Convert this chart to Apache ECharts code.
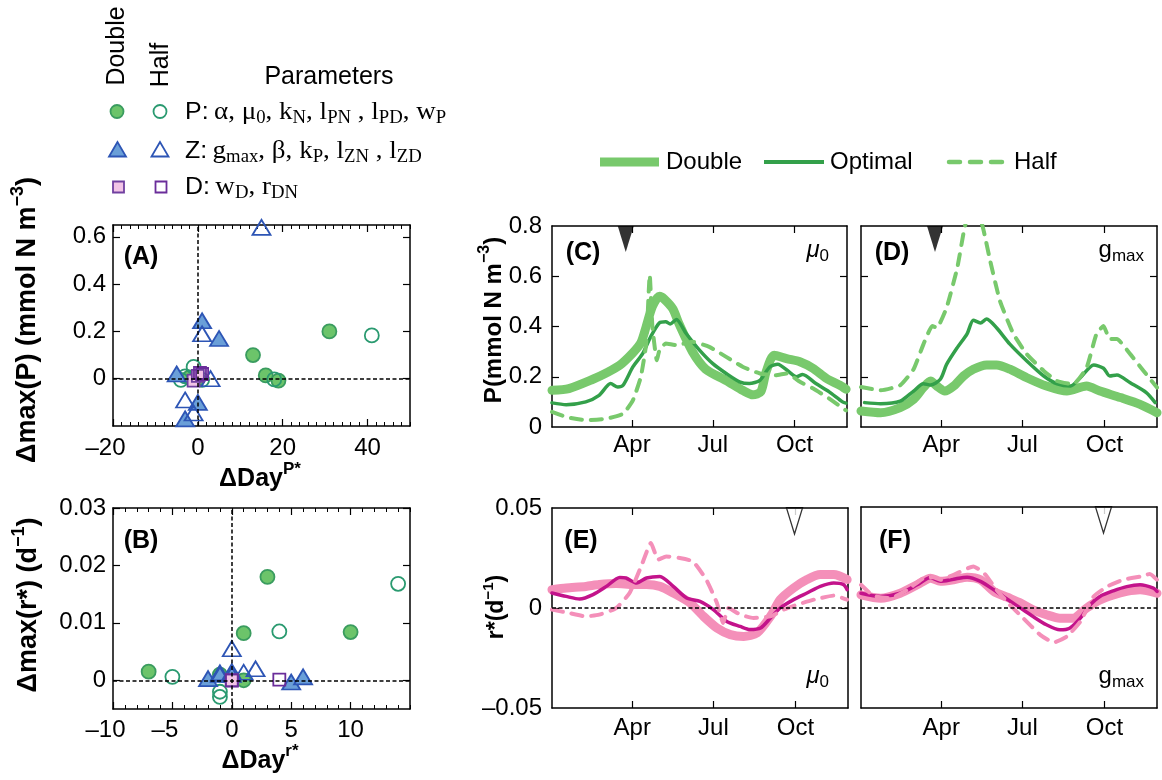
<!DOCTYPE html>
<html>
<head>
<meta charset="utf-8">
<script src="https://cdn.jsdelivr.net/npm/echarts@6/dist/echarts.min.js"></script>
<style>
html,body{margin:0;padding:0;background:#fff}
#chart{width:1162px;height:780px}
</style>
</head>
<body>
<div id="chart"></div>
<script>
// ---------------- data ----------------
// month ticks on the seasonal panels (day of year, Jan 1 = 0)
const dayTicks = [90, 181, 273];
const monthNames = ['Apr', 'Jul', 'Oct'];
const bloomMarkDays = [83];     // filled marker above P panels
const rZeroMarkDays = [272];    // open marker above r* panels

// (A) ΔDay^P* vs Δmax(P)
const pDoubleA = [[13, 0.10], [31, 0.20], [16, 0.014], [19, -0.008], [-2, 0.005], [0, 0.0]];
const pHalfA   = [[41, 0.183], [18, -0.003], [-1, 0.05], [-4, -0.005], [-3, 0.01], [1, -0.005]];
const zDoubleA = [[1, 0.245], [5, 0.17], [-5, 0.02], [0, -0.10], [-3, -0.17]];
const zHalfA   = [[15, 0.64], [1, 0.19], [3, 0.0], [-3, -0.09], [-1, -0.145]];
const dDoubleA = [[-1, -0.008], [0, 0.012]];
const dHalfA   = [[1, 0.02], [0.5, 0.025]];

// (B) ΔDay^r* vs Δmax(r*)
const pDoubleB = [[-7, 0.0015], [3, 0.018], [1, 0.0082], [10, 0.0084], [1, 0.0], [-1, 0.001]];
const pHalfB   = [[14, 0.0168], [4, 0.0085], [-5, 0.0006], [-1, -0.002], [-1, -0.0029], [0, 0.0005]];
const zDoubleB = [[-2, 0.0003], [-1, 0.0013], [0, 0.0015], [5, -0.0003], [6, 0.0006]];
const zHalfB   = [[0, 0.0055], [1, 0.0014], [2, 0.002], [-1, 0.001], [0, 0.001]];
const dDoubleB = [[0, 0.0], [0, 0.0]];
const dHalfB   = [[4, 0.0001], [0, 0.0]];

// (C) P with mu0 perturbed
const pMuDouble = [[0,0.146],[19,0.153],[46,0.19],[61,0.215],[76,0.245],[91,0.295],[100,0.335],[106,0.40],[113,0.48],[121,0.52],[126,0.51],[136,0.47],[143,0.41],[158,0.30],[173,0.23],[196,0.185],[215,0.145],[226,0.128],[235,0.14],[241,0.22],[250,0.286],[264,0.272],[279,0.26],[294,0.233],[309,0.193],[324,0.166],[331,0.15]];
const pMuOptimal = [[0,0.096],[16,0.089],[38,0.10],[53,0.126],[66,0.173],[74,0.159],[80,0.166],[91,0.239],[102,0.292],[111,0.359],[121,0.415],[128,0.419],[133,0.41],[140,0.428],[151,0.372],[166,0.306],[181,0.252],[196,0.213],[211,0.18],[222,0.173],[234,0.186],[245,0.239],[254,0.25],[267,0.219],[275,0.20],[282,0.209],[297,0.173],[312,0.14],[327,0.10],[331,0.095]];
const pMuHalf = [[0,0.06],[16,0.04],[38,0.027],[61,0.033],[80,0.053],[91,0.106],[100,0.20],[106,0.332],[110,0.605],[113,0.40],[118,0.266],[121,0.306],[128,0.332],[140,0.326],[158,0.339],[177,0.319],[196,0.279],[215,0.239],[234,0.213],[252,0.206],[264,0.213],[279,0.18],[294,0.153],[312,0.113],[331,0.066]];

// (D) P with gmax perturbed
const pGDouble = [[0,0.064],[22,0.057],[44,0.077],[59,0.11],[70,0.157],[78,0.183],[85,0.163],[94,0.143],[104,0.163],[115,0.203],[126,0.23],[141,0.247],[152,0.247],[167,0.23],[186,0.196],[208,0.163],[231,0.143],[253,0.163],[268,0.143],[291,0.117],[313,0.09],[332,0.057]];
const pGOptimal = [[4,0.097],[22,0.093],[44,0.103],[59,0.143],[70,0.172],[78,0.167],[89,0.19],[96,0.249],[108,0.316],[119,0.371],[126,0.425],[134,0.414],[141,0.43],[152,0.395],[167,0.33],[186,0.263],[205,0.203],[220,0.172],[235,0.163],[246,0.196],[261,0.247],[272,0.234],[279,0.203],[287,0.207],[302,0.176],[320,0.137],[330,0.097]];
const pGHalf = [[0,0.159],[22,0.146],[44,0.166],[59,0.23],[70,0.329],[80,0.402],[85,0.395],[96,0.475],[108,0.634],[116,0.79],[126,0.92],[137,0.79],[145,0.66],[156,0.50],[171,0.37],[186,0.29],[205,0.223],[220,0.183],[238,0.17],[253,0.236],[264,0.369],[272,0.402],[279,0.35],[287,0.35],[302,0.29],[317,0.223],[332,0.157]];

// (E) r* with mu0 perturbed
const rMuDouble = [[0,0.0092],[16,0.010],[38,0.0108],[53,0.0117],[72,0.0122],[91,0.0117],[106,0.0117],[121,0.0108],[136,0.0075],[155,0.0025],[170,-0.0042],[185,-0.010],[200,-0.0133],[215,-0.0142],[230,-0.0125],[245,-0.0042],[256,0.0042],[271,0.010],[286,0.0142],[301,0.0167],[316,0.0167],[331,0.0142]];
const rMuOptimal = [[0,0.0075],[16,0.0058],[31,0.0045],[46,0.0067],[61,0.0108],[76,0.0153],[83,0.015],[95,0.0125],[106,0.015],[121,0.0158],[136,0.0108],[151,0.005],[166,0.0033],[181,-0.0008],[196,-0.0067],[211,-0.0092],[222,-0.0108],[234,-0.010],[245,-0.005],[256,0.0],[271,0.0042],[286,0.0075],[301,0.0108],[316,0.0125],[327,0.0117],[331,0.0092]];
const rMuHalf = [[0,-0.0008],[19,-0.0025],[38,-0.0042],[53,-0.0033],[72,0.0],[87,0.0075],[100,0.0208],[111,0.0325],[119,0.0242],[128,0.0258],[143,0.025],[158,0.0233],[173,0.0142],[185,0.0025],[192,-0.0075],[198,0.0],[211,-0.0033],[226,-0.005],[245,-0.0042],[260,-0.0008],[275,0.0017],[294,0.0042],[316,0.0062],[331,0.0042]];

// (F) r* with gmax perturbed
const rGDouble = [[0,0.0063],[22,0.0046],[44,0.0071],[63,0.0113],[78,0.0146],[89,0.013],[104,0.0138],[119,0.0151],[134,0.0138],[149,0.008],[164,0.0051],[179,0.0022],[193,-0.0012],[208,-0.0036],[223,-0.0053],[238,-0.0053],[253,-0.0003],[268,0.0038],[283,0.0063],[298,0.008],[313,0.0088],[332,0.0071]];
const rGOptimal = [[0,0.0071],[22,0.0055],[44,0.0071],[63,0.0113],[78,0.0149],[89,0.013],[104,0.0141],[119,0.0151],[134,0.013],[149,0.0088],[164,0.0041],[179,-0.0003],[193,-0.0045],[208,-0.0086],[223,-0.0111],[234,-0.0103],[246,-0.0053],[257,0.0013],[268,0.0055],[283,0.0083],[298,0.0104],[313,0.0113],[328,0.0096],[332,0.008]];
const rGHalf = [[0,0.0113],[14,0.0058],[33,0.0046],[52,0.0088],[70,0.0146],[81,0.0151],[89,0.0138],[104,0.0163],[126,0.0204],[138,0.0171],[152,0.0088],[167,0.0013],[182,-0.0053],[201,-0.0136],[216,-0.0174],[231,-0.0144],[246,-0.007],[261,0.0055],[276,0.0104],[294,0.0138],[313,0.0154],[324,0.0167],[332,0.0138]];

// ---------------- styling ----------------
const SANS = 'Liberation Sans';
const SERIF = 'Liberation Serif';
const GREEN = {dbl: '#78c96c', opt: '#33a04a', half: '#78c96c'};
const PINK  = {dbl: '#f48fb9', opt: '#c3138b', half: '#f48fb9'};

const sym = {
  pD: {symbol: 'circle', size: 14, color: '#6cc46a', border: '#3a9c5f'},
  pH: {symbol: 'circle', size: 14, color: 'rgba(255,255,255,0)', border: '#2a9a70'},
  zD: {symbol: 'triangle', size: [18, 15], color: '#6a9fd8', border: '#2d55b5'},
  zH: {symbol: 'triangle', size: [18, 15], color: 'rgba(255,255,255,0)', border: '#2d55b5'},
  dD: {symbol: 'rect', size: 12, color: '#f2c4e6', border: '#7040a0'},
  dH: {symbol: 'rect', size: 12, color: 'rgba(255,255,255,0)', border: '#6a2d9a'}
};

function fmtNum(v) { return v < 0 ? '\u2013' + String(-v) : String(v); }
// negative x labels get extra right padding so the number sits left of its tick
function fmtNumX(v) { return v < 0 ? '{n|\u2013' + String(-v) + '}' : '{p|' + String(v) + '}'; }
function fmtMonth(v) { const i = dayTicks.indexOf(v); return i >= 0 ? monthNames[i] : ''; }

// ---------------- layout ----------------
const grids = [
  {left: 113, top: 225, width: 297, height: 201}, // A
  {left: 113, top: 508, width: 297, height: 201}, // B
  {left: 552, top: 226, width: 295, height: 201}, // C
  {left: 861, top: 226, width: 296, height: 201}, // D
  {left: 552, top: 508, width: 296, height: 200}, // E
  {left: 861, top: 507, width: 296, height: 201}  // F
].map(g => Object.assign({show: false, containLabel: false, outerBoundsMode: 'none'}, g));

const xAxes = [], yAxes = [];
const labelRich = {
  n: {fontFamily: SANS, fontSize: 24, color: '#000', padding: [0, 15, 0, 0]},
  p: {fontFamily: SANS, fontSize: 24, color: '#000'}
};

// main axis (labels + major ticks), mirrored axis on the opposite side, optional minor-tick axes
function addAxes(list, dim, gi, s) {
  const mainPos = dim === 'x' ? 'bottom' : 'left';
  const mirPos = dim === 'x' ? 'top' : 'right';
  const line = {show: true, onZero: false, lineStyle: {color: '#000', width: 1.5}};
  const tick = s.ticks && s.ticks.length
    ? {show: true, inside: true, length: 7, customValues: s.ticks, lineStyle: {color: '#000', width: 1.2}}
    : {show: false};
  const base = {gridIndex: gi, type: 'value', min: s.min, max: s.max, splitLine: {show: false}, axisLine: line, axisTick: tick};
  const idx = list.length;
  list.push(Object.assign({}, base, {
    position: mainPos,
    axisLabel: s.labels ? {
      show: true, customValues: s.labels, formatter: s.fmt || fmtNum, rich: labelRich,
      color: '#000', fontFamily: SANS, fontSize: 24, margin: s.margin
    } : {show: false}
  }));
  list.push(Object.assign({}, base, {position: mirPos, axisLabel: {show: false}}));
  if (s.minor) {
    [mainPos, mirPos].forEach(p => list.push({
      gridIndex: gi, type: 'value', min: s.min, max: s.max, interval: s.minor, position: p,
      splitLine: {show: false}, axisLine: {show: false, onZero: false},
      axisTick: {show: true, inside: true, length: 4, lineStyle: {color: '#000', width: 1}},
      axisLabel: {show: false}
    }));
  }
  return idx;
}

const ax = [];
// A
ax.push([addAxes(xAxes, 'x', 0, {min: -20, max: 50, ticks: [-20, 0, 20, 40], labels: [-20, 0, 20, 40], fmt: fmtNumX, minor: 2, margin: 10}),
         addAxes(yAxes, 'y', 0, {min: -0.2, max: 0.65, ticks: [0, 0.2, 0.4, 0.6], labels: [0, 0.2, 0.4, 0.6], margin: 7})]);
// B
ax.push([addAxes(xAxes, 'x', 1, {min: -10, max: 15, ticks: [-10, -5, 0, 5, 10], labels: [-10, -5, 0, 5, 10], fmt: fmtNumX, minor: 1, margin: 9}),
         addAxes(yAxes, 'y', 1, {min: -0.005, max: 0.03, ticks: [0, 0.01, 0.02, 0.03], labels: [0, 0.01, 0.02, 0.03], margin: 7})]);
// C
ax.push([addAxes(xAxes, 'x', 2, {min: 0, max: 332, ticks: dayTicks, labels: dayTicks, fmt: fmtMonth, margin: 6}),
         addAxes(yAxes, 'y', 2, {min: 0, max: 0.8, ticks: [0.2, 0.4, 0.6], labels: [0, 0.2, 0.4, 0.6, 0.8], margin: 10})]);
// D
ax.push([addAxes(xAxes, 'x', 3, {min: 0, max: 332, ticks: dayTicks, labels: dayTicks, fmt: fmtMonth, margin: 6}),
         addAxes(yAxes, 'y', 3, {min: 0, max: 0.8, ticks: [0.2, 0.4, 0.6], labels: null})]);
// E
ax.push([addAxes(xAxes, 'x', 4, {min: 0, max: 332, ticks: dayTicks, labels: dayTicks, fmt: fmtMonth, margin: 8}),
         addAxes(yAxes, 'y', 4, {min: -0.05, max: 0.05, ticks: [0], labels: [-0.05, 0, 0.05], margin: 10})]);
// F
ax.push([addAxes(xAxes, 'x', 5, {min: 0, max: 332, ticks: dayTicks, labels: dayTicks, fmt: fmtMonth, margin: 8}),
         addAxes(yAxes, 'y', 5, {min: -0.05, max: 0.05, ticks: [], labels: null})]);

// ---------------- series ----------------
const series = [];

function zeroLines(p, lines, z) {
  series.push({
    type: 'line', xAxisIndex: ax[p][0], yAxisIndex: ax[p][1], data: [], z: z, silent: true,
    markLine: {
      silent: true, symbol: ['none', 'none'], animation: false, label: {show: false},
      lineStyle: {color: '#000', type: [4, 2.5], width: 1.5},
      emphasis: {disabled: true},
      data: lines
    }
  });
}

function scatter(p, data, s) {
  series.push({
    type: 'scatter', xAxisIndex: ax[p][0], yAxisIndex: ax[p][1], data: data, z: 3, clip: false, silent: true,
    symbol: s.symbol, symbolSize: s.size,
    itemStyle: {color: s.color, borderColor: s.border, borderWidth: 1.8, opacity: 1}
  });
}

function seasonal(p, dbl, opt, half, pal) {
  const common = {type: 'line', xAxisIndex: ax[p][0], yAxisIndex: ax[p][1], showSymbol: false, silent: true, smooth: 0.25};
  series.push(Object.assign({}, common, {data: dbl, z: 2, lineStyle: {color: pal.dbl, width: 9, cap: 'round', join: 'round'}}));
  series.push(Object.assign({}, common, {data: opt, z: 3, lineStyle: {color: pal.opt, width: 3.5, cap: 'round', join: 'round'}}));
  series.push(Object.assign({}, common, {data: half, z: 4, smooth: 0.15, lineStyle: {color: pal.half, width: 4, type: [11, 9], cap: 'round', join: 'round'}}));
}

function dayMarker(p, days, yTop, filled) {
  series.push({
    type: 'scatter', xAxisIndex: ax[p][0], yAxisIndex: ax[p][1], z: 6, clip: false, silent: true,
    data: days.map(d => [d, yTop]),
    symbol: 'triangle', symbolRotate: 180, symbolSize: [16, 26], symbolOffset: [0, 13],
    itemStyle: filled ? {color: '#000'} : {color: '#fff', borderColor: '#000', borderWidth: 1.5}
  });
}

// A
zeroLines(0, [{xAxis: 0}, {yAxis: 0}], 1);
scatter(0, pDoubleA, sym.pD); scatter(0, pHalfA, sym.pH);
scatter(0, zDoubleA, sym.zD); scatter(0, zHalfA, sym.zH);
scatter(0, dDoubleA, sym.dD); scatter(0, dHalfA, sym.dH);
// B
zeroLines(1, [{xAxis: 0}, {yAxis: 0}], 1);
scatter(1, pDoubleB, sym.pD); scatter(1, pHalfB, sym.pH);
scatter(1, zDoubleB, sym.zD); scatter(1, zHalfB, sym.zH);
scatter(1, dDoubleB, sym.dD); scatter(1, dHalfB, sym.dH);
// C, D
seasonal(2, pMuDouble, pMuOptimal, pMuHalf, GREEN);
seasonal(3, pGDouble, pGOptimal, pGHalf, GREEN);
dayMarker(2, bloomMarkDays, 0.8, true);
dayMarker(3, bloomMarkDays, 0.8, true);
// E, F
seasonal(4, rMuDouble, rMuOptimal, rMuHalf, PINK);
seasonal(5, rGDouble, rGOptimal, rGHalf, PINK);
zeroLines(4, [{yAxis: 0}], 5);
zeroLines(5, [{yAxis: 0}], 5);
dayMarker(4, rZeroMarkDays, 0.05, false);
dayMarker(5, rZeroMarkDays, 0.05, false);

// ---------------- text & legends ----------------
const T = (x, y, text, rich, extra) => Object.assign({
  type: 'text', x: x, y: y, silent: true,
  style: {text: text, rich: rich, fill: '#000', align: 'center', verticalAlign: 'middle', textAlign: 'center', textVerticalAlign: 'middle'}
}, extra || {});

function boldStyle(size, supSize, raise) {
  return {
    b: {fontFamily: SANS, fontWeight: 'bold', fontSize: size, color: '#000'},
    sp: {fontFamily: SANS, fontWeight: 'bold', fontSize: supSize, color: '#000', padding: [0, 0, raise, 0]}
  };
}
const legRich = {
  s: {fontFamily: SANS, fontSize: 24, color: '#000'},
  r: {fontFamily: SERIF, fontSize: 26, color: '#000'},
  sub: {fontFamily: SERIF, fontSize: 18, color: '#000', padding: [13, 0, 0, 0]}
};
const paramRich = {
  i: {fontFamily: SANS, fontStyle: 'italic', fontSize: 24, color: '#000'},
  n: {fontFamily: SANS, fontSize: 24, color: '#000'},
  sub: {fontFamily: SANS, fontSize: 17, color: '#000', padding: [12, 0, 0, 0]}
};
const panelRich = {p: {fontFamily: SANS, fontWeight: 'bold', fontSize: 25, color: '#000'}};
const plainRich = size => ({s: {fontFamily: SANS, fontSize: size, color: '#000'}});

function leftText(x, y, text, rich, extra) {
  const t = T(x, y, text, rich, extra);
  t.style.align = 'left'; t.style.textAlign = 'left';
  return t;
}
function rightText(x, y, text, rich) {
  const t = T(x, y, text, rich);
  t.style.align = 'right'; t.style.textAlign = 'right';
  return t;
}

const graphics = [
  // axis titles
  T(28, 320, '{b|\u0394max(P) (mmol N m}{sp|\u22123}{b|)}', boldStyle(27, 18, 20), {rotation: Math.PI / 2}),
  T(260, 479, '{b|\u0394Day}{sp|P*}', boldStyle(25, 17, 20)),
  T(29, 605, '{b|\u0394max(r*) (d}{sp|\u22121}{b|)}', boldStyle(27, 18, 20), {rotation: Math.PI / 2}),
  T(260, 761, '{b|\u0394Day}{sp|r*}', boldStyle(25, 17, 20)),
  T(494, 320, '{b|P(mmol N m}{sp|\u22123}{b|)}', boldStyle(24, 16, 18), {rotation: Math.PI / 2}),
  T(497, 607, '{b|r*(d}{sp|\u22121}{b|)}', boldStyle(23, 15, 17), {rotation: Math.PI / 2}),
  // panel letters
  T(141, 257, '{p|(A)}', panelRich), T(141, 541, '{p|(B)}', panelRich),
  T(583, 253, '{p|(C)}', panelRich), T(892, 253, '{p|(D)}', panelRich),
  T(581, 541, '{p|(E)}', panelRich), T(895, 541, '{p|(F)}', panelRich),
  // perturbed parameter names
  rightText(829, 250, '{i|\u03bc}{sub|0}', paramRich),
  rightText(1144, 250, '{n|g}{sub|max}', paramRich),
  rightText(829, 676, '{i|\u03bc}{sub|0}', paramRich),
  rightText(1144, 676, '{n|g}{sub|max}', paramRich),

  // symbol key (top left)
  T(117, 46, '{s|Double}', plainRich(25), {rotation: Math.PI / 2}),
  T(161, 65, '{s|Half}', plainRich(25), {rotation: Math.PI / 2}),
  T(329, 77, '{s|Parameters}', plainRich(25)),
  {type: 'circle', silent: true, shape: {cx: 117, cy: 111.5, r: 6.5}, style: {fill: sym.pD.color, stroke: sym.pD.border, lineWidth: 1.8}},
  {type: 'circle', silent: true, shape: {cx: 160, cy: 111.5, r: 6.5}, style: {fill: 'none', stroke: sym.pH.border, lineWidth: 1.8}},
  {type: 'polygon', silent: true, shape: {points: [[117.5, 142], [109, 156.5], [126, 156.5]]}, style: {fill: sym.zD.color, stroke: sym.zD.border, lineWidth: 1.8}},
  {type: 'polygon', silent: true, shape: {points: [[160, 142], [151.5, 156.5], [168.5, 156.5]]}, style: {fill: 'none', stroke: sym.zH.border, lineWidth: 1.8}},
  {type: 'rect', silent: true, shape: {x: 113, y: 181.5, width: 11, height: 11}, style: {fill: sym.dD.color, stroke: sym.dD.border, lineWidth: 1.8}},
  {type: 'rect', silent: true, shape: {x: 155.5, y: 181.5, width: 11, height: 11}, style: {fill: 'none', stroke: sym.dH.border, lineWidth: 1.8}},
  leftText(185, 112, '{s|P:}{r|\u2009\u03b1, \u03bc}{sub|0}{r|, k}{sub|N}{r|, l}{sub|PN}{r| , l}{sub|PD}{r|, w}{sub|P}', legRich, {scaleX: 1.04}),
  leftText(185, 151, '{s|Z:}{r|\u2009g}{sub|max}{r|, \u03b2, k}{sub|P}{r|, l}{sub|ZN}{r| , l}{sub|ZD}', legRich, {scaleX: 1.04}),
  leftText(185, 187, '{s|D:}{r|\u2009w}{sub|D}{r|, r}{sub|DN}', legRich, {scaleX: 1.04}),

  // line key (top right)
  {type: 'line', silent: true, shape: {x1: 600, y1: 162, x2: 659, y2: 162}, style: {stroke: GREEN.dbl, lineWidth: 9}},
  leftText(666, 162, '{s|Double}', plainRich(24)),
  {type: 'line', silent: true, shape: {x1: 764, y1: 162, x2: 824, y2: 162}, style: {stroke: GREEN.opt, lineWidth: 4}},
  leftText(830, 162, '{s|Optimal}', plainRich(24)),
  {type: 'line', silent: true, shape: {x1: 949, y1: 162, x2: 1006, y2: 162}, style: {stroke: GREEN.half, lineWidth: 4.5, lineDash: [11, 10], lineCap: 'round'}},
  leftText(1014, 162, '{s|Half}', plainRich(24))
];

const chart = echarts.init(document.getElementById('chart'), null, {renderer: 'canvas'});
chart.setOption({
  animation: false,
  backgroundColor: '#fff',
  grid: grids,
  xAxis: xAxes,
  yAxis: yAxes,
  series: series,
  graphic: graphics
});
</script>
</body>
</html>
